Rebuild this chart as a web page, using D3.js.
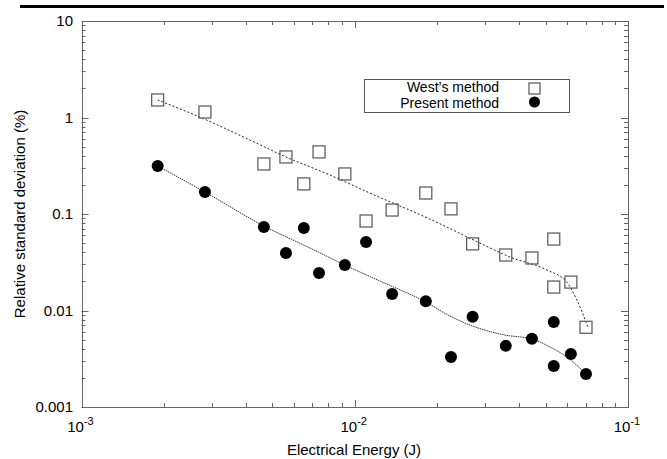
<!DOCTYPE html>
<html>
<head>
<meta charset="utf-8">
<script src="https://cdn.jsdelivr.net/npm/d3@7"></script>
<style>
  body { margin: 0; background: #fff; }
  svg { display: block; font-family: "Liberation Sans", Arial, sans-serif; }
</style>
</head>
<body>
<svg id="chart" width="667" height="459"></svg>
<script>
// ---- data ----
const westEnergy = [0.0019, 0.00283, 0.00465, 0.0056, 0.00651, 0.0074, 0.0092, 0.011, 0.0137, 0.0182, 0.0225, 0.027, 0.0357, 0.0445, 0.0535, 0.0535, 0.0618, 0.0702];
const westRSD    = [1.52, 1.14, 0.33, 0.39, 0.205, 0.44, 0.26, 0.0846, 0.11, 0.165, 0.113, 0.049, 0.0376, 0.035, 0.055, 0.0175, 0.0197, 0.0067];

const presentEnergy = [0.0019, 0.00283, 0.00465, 0.0056, 0.00651, 0.0074, 0.0092, 0.011, 0.0137, 0.0182, 0.0225, 0.027, 0.0357, 0.0445, 0.0535, 0.0535, 0.0618, 0.0702];
const presentRSD    = [0.314, 0.169, 0.0733, 0.0394, 0.0716, 0.0245, 0.0296, 0.0513, 0.0148, 0.0125, 0.0033, 0.0086, 0.0043, 0.0051, 0.0076, 0.00266, 0.00354, 0.0022];

// fitted curves
const westFitEnergy = [0.0019, 0.00271, 0.00413, 0.0056, 0.0081, 0.01135, 0.0188, 0.0287, 0.037, 0.0505, 0.0597, 0.065, 0.0713];
const westFitRSD    = [1.52, 1.01, 0.585, 0.39, 0.254, 0.165, 0.0888, 0.050, 0.0358, 0.0263, 0.0197, 0.01285, 0.00675];

const presentFitEnergy = [0.0019, 0.00283, 0.00465, 0.00686, 0.0092, 0.01236, 0.0182, 0.0223, 0.027, 0.0354, 0.0445, 0.0518, 0.0597, 0.0702];
const presentFitRSD    = [0.314, 0.169, 0.0751, 0.0444, 0.0296, 0.0202, 0.01225, 0.00877, 0.0069, 0.00557, 0.00507, 0.00419, 0.0033, 0.0022];

const xTickExps = [-3, -2, -1];
const yTickLabels = ["0.001", "0.01", "0.1", "1", "10"];
const yTickValues = [0.001, 0.01, 0.1, 1, 10];
const legendLabels = ["West\u2019s method", "Present method"];
const xTitle = "Electrical Energy (J)";
const yTitle = "Relative standard deviation (%)";

// ---- drawing ----
const svg = d3.select("#chart");
const L = 81.5, R = 628, T = 21, B = 407;
const x = d3.scaleLog().domain([1e-3, 1e-1]).range([L, R]);
const y = d3.scaleLog().domain([1e-3, 10]).range([B, T]);

// top rule
svg.append("rect").attr("x", 20).attr("y", 5).attr("width", 644).attr("height", 3).attr("fill", "#000");

const frameColor = "#666";
// ticks
const g = svg.append("g").attr("stroke", frameColor).attr("stroke-width", 1);
const xMinor = [], yMinor = [];
for (let e = -3; e < -1 + 0.001; e++) for (let m = 2; m <= 9; m++) { const v = m * Math.pow(10, e); if (v < 0.1) xMinor.push(v); }
for (let e = -3; e < 1; e++) for (let m = 2; m <= 9; m++) yMinor.push(m * Math.pow(10, e));
const xMajor = xTickExps.map(e => Math.pow(10, e));

xMinor.forEach(v => {
  const px = Math.round(x(v)) + 0.5;
  g.append("line").attr("x1", px).attr("x2", px).attr("y1", B).attr("y2", B - 4);
  g.append("line").attr("x1", px).attr("x2", px).attr("y1", T).attr("y2", T + 4);
});
xMajor.forEach(v => {
  const px = Math.round(x(v)) + 0.5;
  g.append("line").attr("x1", px).attr("x2", px).attr("y1", B).attr("y2", B - 7);
  g.append("line").attr("x1", px).attr("x2", px).attr("y1", T).attr("y2", T + 7);
});
yMinor.forEach(v => {
  const py = Math.round(y(v)) + 0.5;
  g.append("line").attr("x1", L).attr("x2", L + 4).attr("y1", py).attr("y2", py);
  g.append("line").attr("x1", R).attr("x2", R - 4).attr("y1", py).attr("y2", py);
});
yTickValues.forEach(v => {
  const py = Math.round(y(v)) + 0.5;
  g.append("line").attr("x1", L).attr("x2", L + 7).attr("y1", py).attr("y2", py);
  g.append("line").attr("x1", R).attr("x2", R - 7).attr("y1", py).attr("y2", py);
});

// frame
svg.append("rect").attr("x", Math.round(L) + 0.5).attr("y", T + 0.5)
  .attr("width", Math.round(R) - Math.round(L)).attr("height", B - T)
  .attr("fill", "none").attr("stroke", frameColor).attr("stroke-width", 1);

// y tick labels
yTickValues.forEach((v, i) => {
  svg.append("text").attr("x", 73).attr("y", y(v) + 5)
    .attr("text-anchor", "end").attr("font-size", 15).attr("fill", "#000")
    .text(yTickLabels[i]);
});
// x tick labels
xTickExps.forEach(e => {
  const t = svg.append("text").attr("x", x(Math.pow(10, e)) - 1).attr("y", 432)
    .attr("text-anchor", "middle").attr("font-size", 15).attr("fill", "#000");
  t.append("tspan").text("10");
  t.append("tspan").attr("dy", -7).attr("font-size", 11).text(String(e));
});

// axis titles
svg.append("text").attr("x", 354).attr("y", 455).attr("text-anchor", "middle")
  .attr("font-size", 15).attr("fill", "#000").text(xTitle);
svg.append("text").attr("transform", "translate(25,214) rotate(-90)").attr("text-anchor", "middle")
  .attr("font-size", 15).attr("fill", "#000").text(yTitle);

// fitted curves
const line = d3.line().x(d => x(d[0])).y(d => y(d[1])).curve(d3.curveMonotoneX);
svg.append("path").datum(westFitEnergy.map((e, i) => [e, westFitRSD[i]]))
  .attr("d", line).attr("fill", "none").attr("stroke", "#222").attr("stroke-width", 1)
  .attr("stroke-dasharray", "2,2");
svg.append("path").datum(presentFitEnergy.map((e, i) => [e, presentFitRSD[i]]))
  .attr("d", line).attr("fill", "none").attr("stroke", "#333").attr("stroke-width", 1)
  .attr("stroke-dasharray", "1.5,0.8");

// markers
const S = 12;
svg.append("g").selectAll("rect").data(westEnergy.map((e, i) => [e, westRSD[i]])).join("rect")
  .attr("x", d => x(d[0]) - S / 2).attr("y", d => y(d[1]) - S / 2)
  .attr("width", S).attr("height", S)
  .attr("fill", "none").attr("stroke", "#555").attr("stroke-width", 1.2);
svg.append("g").selectAll("circle").data(presentEnergy.map((e, i) => [e, presentRSD[i]])).join("circle")
  .attr("cx", d => x(d[0])).attr("cy", d => y(d[1])).attr("r", 6).attr("fill", "#000");

// legend
svg.append("rect").attr("x", 364.5).attr("y", 79.5).attr("width", 205).attr("height", 33)
  .attr("fill", "#fff").attr("stroke", "#555").attr("stroke-width", 1);
svg.append("text").attr("x", 499).attr("y", 92).attr("text-anchor", "end").attr("font-size", 14)
  .attr("fill", "#000").text(legendLabels[0]);
svg.append("text").attr("x", 499).attr("y", 108).attr("text-anchor", "end").attr("font-size", 14)
  .attr("fill", "#000").text(legendLabels[1]);
svg.append("rect").attr("x", 529).attr("y", 83).attr("width", 11).attr("height", 11)
  .attr("fill", "none").attr("stroke", "#555").attr("stroke-width", 1.2);
svg.append("circle").attr("cx", 534.5).attr("cy", 102).attr("r", 5.5).attr("fill", "#000");
</script>
</body>
</html>
